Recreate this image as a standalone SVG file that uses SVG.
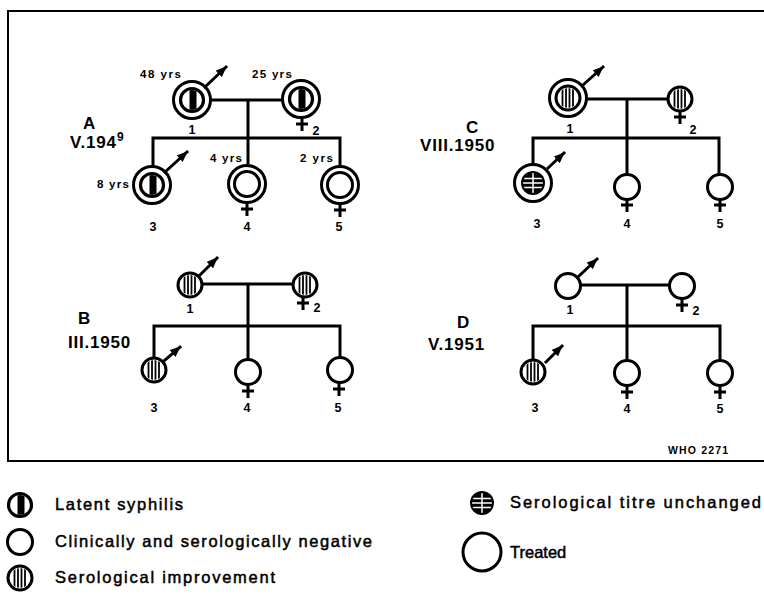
<svg xmlns="http://www.w3.org/2000/svg" xmlns:xlink="http://www.w3.org/1999/xlink" width="764" height="597" viewBox="0 0 764 597">
<style>
.ln{stroke:#000;stroke-width:3;fill:none;stroke-linecap:square}
.lbl{font-family:"Liberation Sans",Arial,sans-serif;font-weight:bold;fill:#000}
.num{font-size:12.5px;text-anchor:middle}
.yrs{font-size:11.5px;letter-spacing:1.2px}
.ttl{font-size:17px;letter-spacing:0.8px}
.leg{font-family:"Liberation Sans",Arial,sans-serif;font-size:16.5px;fill:#000;stroke:#000;stroke-width:0.5}
</style>
<defs>
<marker id="ah" markerUnits="userSpaceOnUse" markerWidth="11" markerHeight="9" refX="10" refY="4.5" orient="auto">
<path d="M0,0 L11,4.5 L0,9 z" fill="#000"/>
</marker>
<clipPath id="c10"><circle r="10"/></clipPath>
<g id="ring"><circle r="18.5" fill="#fff" stroke="#000" stroke-width="3"/></g>
<g id="neg"><circle r="12.5" fill="#fff" stroke="#000" stroke-width="3"/></g>
<g id="latent"><circle r="11.5" fill="#fff" stroke="#000" stroke-width="3.2"/><rect x="-2.5" y="-12" width="7" height="24" fill="#000" clip-path="url(#c10)"/></g>
<g id="strp"><circle r="12" fill="#fff" stroke="#000" stroke-width="3"/><g clip-path="url(#c10)" stroke="#000" stroke-width="1.8"><line x1="-5.5" y1="-12" x2="-5.5" y2="12"/><line x1="-2" y1="-12" x2="-2" y2="12"/><line x1="1.5" y1="-12" x2="1.5" y2="12"/><line x1="5" y1="-12" x2="5" y2="12"/></g></g>
<g id="titre"><circle r="12" fill="#000"/><g clip-path="url(#c10)" stroke="#fff" stroke-width="1.5"><line x1="-12" y1="-4.5" x2="12" y2="-4.5"/><line x1="-12" y1="0" x2="12" y2="0"/><line x1="-12" y1="4.5" x2="12" y2="4.5"/><line x1="0" y1="-12" x2="0" y2="12"/></g></g>
<g id="fem"><path d="M0,0 V13 M-6,6 H6" stroke="#000" stroke-width="3" fill="none"/></g>
</defs>
<rect x="8" y="11" width="800" height="450" fill="none" stroke="#000" stroke-width="2"/>

<g id="connectors" class="ln">
<!-- A -->
<path d="M211,100 H282 M248,100 V165 M153,138 H340 M153,138 V166 M340,138 V166"/>
<!-- C -->
<path d="M588,99 H668 M627,99 V174 M533,138 H719 M533,138 V163 M719,138 V174"/>
<!-- B -->
<path d="M203,284 H292 M248,284 V359 M154,326 H340 M154,326 V357 M340,326 V357"/>
<!-- D -->
<path d="M581,285 H669 M627,285 V360 M533,326 H720 M533,326 V359 M720,326 V360"/>
</g>

<!-- Panel A -->
<g id="panelA-title" class="lbl ttl"><text x="83" y="129">A</text><text x="70" y="148">V.194<tspan font-size="12" dy="-7">9</tspan></text></g>
<g id="A1"><use href="#ring" x="192" y="100"/><use href="#latent" x="192" y="100"/><line x1="205" y1="87" x2="226" y2="67" class="ln" stroke-width="2.5" marker-end="url(#ah)"/><text class="lbl yrs" x="140" y="78" textLength="42">48 yrs</text><text class="lbl num" x="192" y="134">1</text></g>
<g id="A2"><use href="#ring" x="301" y="99"/><use href="#latent" x="301" y="99"/><use href="#fem" x="302" y="118"/><text class="lbl yrs" x="252" y="78" textLength="41">25 yrs</text><text class="lbl num" x="316" y="135">2</text></g>
<g id="A3"><use href="#ring" x="152" y="185"/><use href="#latent" x="152" y="185"/><line x1="165" y1="172" x2="187" y2="152" class="ln" stroke-width="2.5" marker-end="url(#ah)"/><text class="lbl yrs" x="97" y="188" textLength="33">8 yrs</text><text class="lbl num" x="153" y="231">3</text></g>
<g id="A4"><use href="#ring" x="247" y="184"/><use href="#neg" x="247" y="184"/><use href="#fem" x="247" y="203"/><text class="lbl yrs" x="210" y="162" textLength="33">4 yrs</text><text class="lbl num" x="247" y="231">4</text></g>
<g id="A5"><use href="#ring" x="340" y="185"/><use href="#neg" x="340" y="185"/><use href="#fem" x="340" y="204"/><text class="lbl yrs" x="300" y="162" textLength="34">2 yrs</text><text class="lbl num" x="339" y="231">5</text></g>

<!-- Panel C -->
<g id="panelC-title" class="lbl ttl"><text x="466" y="133">C</text><text x="420" y="151">VIII.1950</text></g>
<g id="C1"><use href="#ring" x="568" y="98"/><use href="#strp" x="568" y="98"/><line x1="583" y1="85" x2="603" y2="67" class="ln" stroke-width="2.5" marker-end="url(#ah)"/><text class="lbl num" x="570" y="133">1</text></g>
<g id="C2"><use href="#strp" x="680" y="99"/><use href="#fem" x="680" y="111"/><text class="lbl num" x="693" y="134">2</text></g>
<g id="C3"><use href="#ring" x="533" y="183"/><use href="#titre" x="533" y="183"/><line x1="548" y1="168" x2="564" y2="153" class="ln" stroke-width="2.5" marker-end="url(#ah)"/><text class="lbl num" x="537" y="228">3</text></g>
<g id="C4"><use href="#neg" x="627" y="187"/><use href="#fem" x="627" y="199"/><text class="lbl num" x="627" y="228">4</text></g>
<g id="C5"><use href="#neg" x="720" y="187"/><use href="#fem" x="720" y="199"/><text class="lbl num" x="720" y="228">5</text></g>

<!-- Panel B -->
<g id="panelB-title" class="lbl ttl"><text x="78" y="324">B</text><text x="68" y="348">III.1950</text></g>
<g id="B1"><use href="#strp" x="190" y="285"/><line x1="200" y1="275" x2="217" y2="258" class="ln" stroke-width="2.5" marker-end="url(#ah)"/><text class="lbl num" x="190" y="313">1</text></g>
<g id="B2"><use href="#strp" x="305" y="285"/><use href="#fem" x="303" y="297"/><text class="lbl num" x="317" y="312">2</text></g>
<g id="B3"><use href="#strp" x="154" y="370"/><line x1="164" y1="361" x2="180" y2="347" class="ln" stroke-width="2.5" marker-end="url(#ah)"/><text class="lbl num" x="154" y="412">3</text></g>
<g id="B4"><use href="#neg" x="248" y="372"/><use href="#fem" x="248" y="385"/><text class="lbl num" x="247" y="412">4</text></g>
<g id="B5"><use href="#neg" x="340" y="370"/><use href="#fem" x="339" y="383"/><text class="lbl num" x="338" y="412">5</text></g>

<!-- Panel D -->
<g id="panelD-title" class="lbl ttl"><text x="457" y="328">D</text><text x="428" y="350">V.1951</text></g>
<g id="D1"><use href="#neg" x="568" y="286"/><line x1="579" y1="276" x2="597" y2="259" class="ln" stroke-width="2.5" marker-end="url(#ah)"/><text class="lbl num" x="570" y="314">1</text></g>
<g id="D2"><use href="#neg" x="682" y="286"/><use href="#fem" x="682" y="299"/><text class="lbl num" x="696" y="315">2</text></g>
<g id="D3"><use href="#strp" x="533" y="372"/><line x1="546" y1="362" x2="562" y2="346" class="ln" stroke-width="2.5" marker-end="url(#ah)"/><text class="lbl num" x="535" y="412">3</text></g>
<g id="D4"><use href="#neg" x="627" y="373"/><use href="#fem" x="627" y="386"/><text class="lbl num" x="627" y="413">4</text></g>
<g id="D5"><use href="#neg" x="720" y="373"/><use href="#fem" x="720" y="386"/><text class="lbl num" x="720" y="413">5</text></g>

<text class="lbl" x="668" y="454" font-size="10.5" textLength="60">WHO 2271</text>

<!-- Legend -->
<g id="legend">
<use href="#latent" x="20" y="505"/>
<text class="leg" x="55" y="510" textLength="128">Latent syphilis</text>
<use href="#neg" x="20" y="542"/>
<text class="leg" x="55" y="547" textLength="317">Clinically and serologically negative</text>
<use href="#strp" x="20" y="578"/>
<text class="leg" x="55" y="583" textLength="220">Serological improvement</text>
<use href="#titre" x="482" y="503"/>
<text class="leg" x="510" y="508" textLength="251">Serological titre unchanged</text>
<circle cx="482" cy="552" r="19" fill="#fff" stroke="#000" stroke-width="3"/>
<text class="leg" x="510" y="558">Treated</text>
</g>
</svg>
